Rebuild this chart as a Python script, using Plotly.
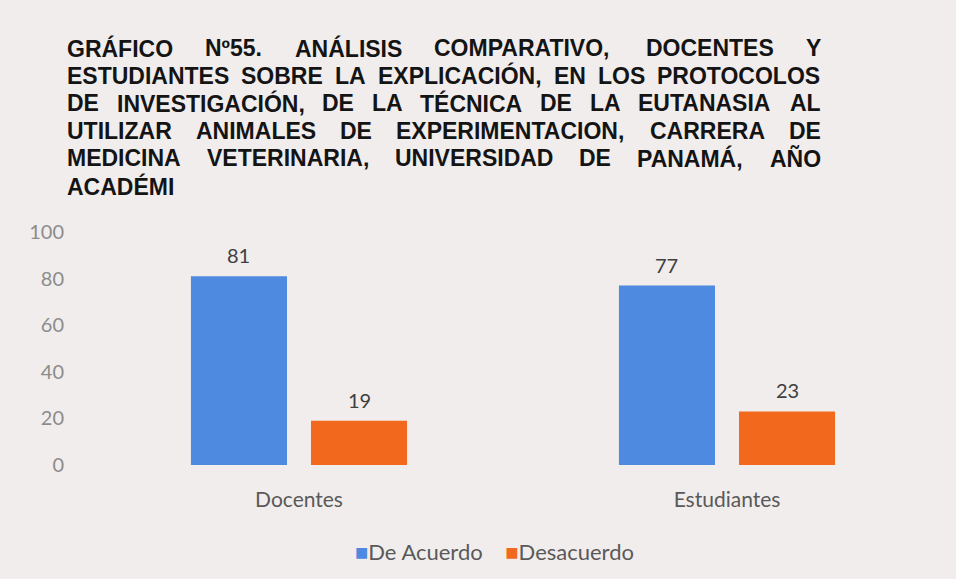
import unicodedata
import plotly.graph_objects as go

# ---- data -------------------------------------------------------------
categories = ["Docentes", "Estudiantes"]
de_acuerdo = [81, 77]
desacuerdo = [19, 23]
series_names = ["De Acuerdo", "Desacuerdo"]
y_ticks = [0, 20, 40, 60, 80, 100]

title_lines = [
    "GRÁFICO Nº55. ANÁLISIS COMPARATIVO, DOCENTES Y",
    "ESTUDIANTES SOBRE LA EXPLICACIÓN, EN LOS PROTOCOLOS",
    "DE INVESTIGACIÓN, DE LA TÉCNICA DE LA EUTANASIA AL",
    "UTILIZAR ANIMALES DE EXPERIMENTACION, CARRERA DE",
    "MEDICINA VETERINARIA, UNIVERSIDAD DE PANAMÁ, AÑO",
    "ACADÉMI",
]

# ---- styling ------------------------------------------------------------
W, H = 956, 579
BG = "#f1eded"
BLUE = "#4d8ae0"
ORANGE = "#f2691e"
COLORS = [BLUE, ORANGE]
BODY_FONT = "Lato, 'Open Sans', sans-serif"
TITLE_FONT = "'Liberation Sans', Arial, sans-serif"
TITLE_SIZE = 23

M_L, M_R, M_T, M_B = 85, 15, 232, 114
PLOT_W = W - M_L - M_R
PLOT_H = H - M_T - M_B
CAT_W = PLOT_W / len(categories)
BARGAP, GROUPGAP = 0.439, 0.2
SLOT_W = CAT_W * (1 - BARGAP) / 2

# Liberation Sans Bold advance widths (per 1000 em)
BOLD_W = {
    "A": 722, "B": 722, "C": 722, "D": 722, "E": 667, "F": 611, "G": 778,
    "H": 722, "I": 278, "J": 556, "K": 722, "L": 611, "M": 833, "N": 722,
    "O": 778, "P": 667, "Q": 778, "R": 722, "S": 667, "T": 611, "U": 722,
    "V": 667, "W": 944, "X": 667, "Y": 667, "Z": 611, ".": 278, ",": 278,
    " ": 278, "º": 365, "°": 400,
}
for d in "0123456789":
    BOLD_W[d] = 556


def text_width(s, size):
    total = 0
    for ch in s:
        base = unicodedata.normalize("NFD", ch)[0]
        total += BOLD_W.get(ch, BOLD_W.get(base, 600))
    return total * size / 1000.0


def px_to_paper_x(px):
    return (px - M_L) / PLOT_W


def px_to_paper_y(py):
    return (H - M_B - py) / PLOT_H


fig = go.Figure()
series = [de_acuerdo, desacuerdo]
for name, vals, col in zip(series_names, series, COLORS):
    fig.add_trace(go.Bar(
        x=categories, y=vals, name=name,
        marker=dict(color=col, line=dict(width=0)),
        showlegend=False,
    ))

annotations = []

# value labels above each bar
for k, vals in enumerate(series):
    offset = (k - 0.5) * SLOT_W
    for cat, v in zip(categories, vals):
        annotations.append(dict(
            text=str(v), x=cat, y=v, xref="x", yref="y",
            xshift=offset, yshift=21, xanchor="center", yanchor="middle",
            showarrow=False,
            font=dict(family=BODY_FONT, size=20, color="#404040"),
        ))

# justified title, one annotation per word
left_px, right_px = 65, 819
line_y0, line_step = 48, 27.6
for i, line in enumerate(title_lines):
    words = line.split(" ")
    widths = [text_width(w, TITLE_SIZE) for w in words]
    yc = line_y0 + i * line_step
    last = i == len(title_lines) - 1
    if last or len(words) == 1:
        gap = text_width(" ", TITLE_SIZE)
    else:
        gap = (right_px - left_px - sum(widths)) / (len(words) - 1)
    x = left_px
    for w, wd in zip(words, widths):
        annotations.append(dict(
            text=w, x=px_to_paper_x(x), y=px_to_paper_y(yc),
            xref="paper", yref="paper", xanchor="left", yanchor="middle",
            showarrow=False,
            font=dict(family=TITLE_FONT, size=TITLE_SIZE, color="#141414",
                      weight="bold"),
        ))
        x += wd + gap

# compact legend below the plot
legend_text = "\u00a0\u00a0\u00a0\u00a0".join(
    f"<span style='color:{c}'>■</span>{n}" for n, c in zip(series_names, COLORS)
)
annotations.append(dict(
    text=legend_text, x=px_to_paper_x(494), y=px_to_paper_y(551),
    xref="paper", yref="paper", xanchor="center", yanchor="middle",
    showarrow=False,
    font=dict(family=BODY_FONT, size=22, color="#595959"),
))

fig.update_layout(
    width=W, height=H,
    margin=dict(l=M_L, r=M_R, t=M_T, b=M_B),
    paper_bgcolor=BG, plot_bgcolor=BG,
    barmode="group", bargap=BARGAP, bargroupgap=GROUPGAP,
    showlegend=False,
    annotations=annotations,
    xaxis=dict(
        showgrid=False, showline=False, zeroline=False,
        tickfont=dict(family=BODY_FONT, size=21, color="#595959"),
        ticklabelstandoff=20,
    ),
    yaxis=dict(
        range=[0, 100], tickvals=y_ticks, showgrid=False, showline=False,
        zeroline=False,
        tickfont=dict(family=BODY_FONT, size=20, color="#8c8c8c"),
        ticklabelstandoff=20,
    ),
)

fig.write_html("out.html")
